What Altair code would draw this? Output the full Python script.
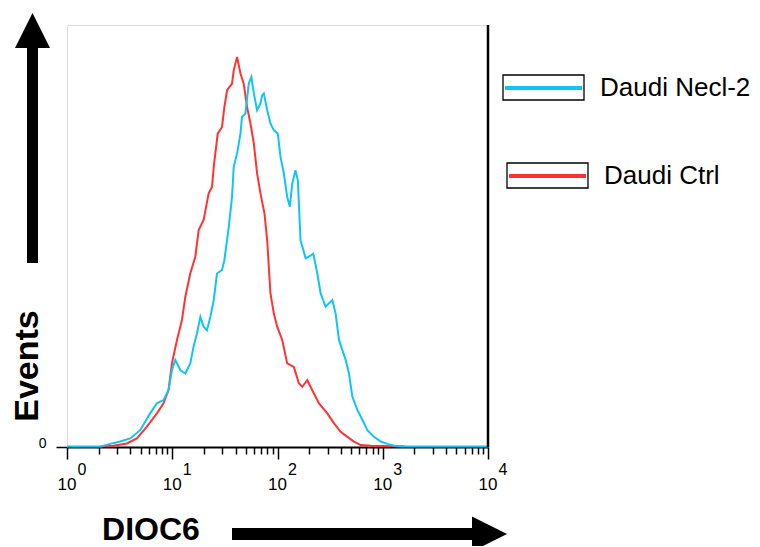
import altair as alt
import pandas as pd

# ---- data (x in decades of DIOC6 intensity, y in events) ----
blue_dec = [0.0, 0.314, 0.410, 0.505, 0.600, 0.695, 0.790, 0.854, 0.917, 0.965, 0.997,
            1.029, 1.076, 1.124, 1.171, 1.203, 1.235, 1.267, 1.298, 1.330, 1.362, 1.394,
            1.425, 1.473, 1.495, 1.537, 1.568, 1.584, 1.616, 1.648, 1.663, 1.695, 1.727,
            1.752, 1.775, 1.806, 1.838, 1.854, 1.870, 1.902, 1.933, 1.965, 2.003, 2.029,
            2.060, 2.092, 2.117, 2.140, 2.171, 2.193, 2.219, 2.267, 2.298, 2.340, 2.378,
            2.410, 2.457, 2.489, 2.521, 2.552, 2.584, 2.616, 2.648, 2.679, 2.711, 2.759,
            2.807, 2.854, 2.917, 2.981, 3.045, 3.108, 3.235, 4.0]
blue_cnt = [0.1, 0.1, 0.8, 1.4, 2.2, 4.3, 8.6, 11.2, 12.0, 14.6, 19.7,
            22.3, 19.7, 18.8, 21.4, 25.7, 29.1, 33.3, 30.8, 29.9, 33.3, 37.6,
            44.4, 45.3, 47.8, 56.3, 64.0, 71.7, 75.1, 80.2, 84.5, 85.3, 93.0,
            94.7, 90.5, 86.2, 87.9, 90.0, 90.5, 86.2, 82.8, 81.1, 80.2, 74.2,
            70.0, 64.0, 61.5, 67.4, 70.8, 68.3, 52.9, 48.3, 48.7, 49.5, 44.4,
            39.3, 35.9, 36.8, 37.6, 34.2, 27.4, 24.8, 22.3, 18.8, 12.9, 9.5,
            6.9, 4.3, 2.6, 1.4, 0.8, 0.3, 0.1, 0.1]

red_dec = [0.314, 0.441, 0.568, 0.664, 0.759, 0.854, 0.917, 0.965, 0.997, 1.045,
           1.092, 1.124, 1.171, 1.219, 1.251, 1.298, 1.346, 1.378, 1.394, 1.432,
           1.473, 1.495, 1.521, 1.568, 1.584, 1.616, 1.648, 1.679, 1.711, 1.743,
           1.775, 1.806, 1.838, 1.876, 1.902, 1.933, 1.965, 1.997, 2.045, 2.092,
           2.155, 2.203, 2.235, 2.283, 2.346, 2.393, 2.473, 2.536, 2.600, 2.664,
           2.727, 2.790, 2.886, 3.203]
red_cnt = [0.1, 0.3, 0.9, 2.2, 5.2, 8.6, 11.2, 14.6, 21.4, 27.4,
           32.5, 38.4, 44.4, 48.7, 55.5, 58.1, 64.9, 66.6, 71.7, 80.2,
           81.9, 87.0, 91.3, 93.0, 96.4, 99.8, 95.6, 93.0, 87.0, 82.8,
           77.7, 70.0, 64.9, 59.8, 52.9, 39.3, 34.2, 30.8, 27.4, 21.4,
           20.5, 16.3, 15.4, 17.1, 13.7, 11.2, 8.6, 6.1, 3.9, 2.6,
           1.4, 0.5, 0.3, 0.1]

series_names = ["Daudi Necl-2", "Daudi Ctrl"]
series_colors = ["#10c4f4", "#ff3333"]
decades = [0, 1, 2, 3, 4]
x_title = "DIOC6"
y_title = "Events"
y_tick_labels = [0]

FONT = "Liberation Sans"
W, H = 421, 422

blue_df = pd.DataFrame({"x": [10 ** d for d in blue_dec], "y": blue_cnt})
red_df = pd.DataFrame({"x": [10 ** d for d in red_dec], "y": red_cnt})

major = [10 ** d for d in decades]
tick_values = [k * 10 ** d for d in decades[:-1] for k in range(1, 10)] + [major[-1]]

xscale = alt.Scale(type="log", domain=[1, 10000], nice=False)
yscale = alt.Scale(domain=[0, 108], nice=False, zero=True)

xaxis = alt.Axis(
    values=tick_values, labels=False, title=None, grid=False,
    domainColor="black", domainWidth=2, tickColor="black", tickWidth=1.5,
    tickSize={"condition": {"test": "indexof([1,10,100,1000,10000], datum.value) >= 0", "value": 12}, "value": 7},
)
yaxis = alt.Axis(
    values=y_tick_labels, title=None, grid=False, domain=False,
    tickColor="black", tickWidth=1.5, tickSize=11,
    labelFont=FONT, labelFontSize=14, labelColor="black",
    labelBaseline="alphabetic", labelPadding=10,
)

red_line = alt.Chart(red_df).mark_line(color=series_colors[1], strokeWidth=2).encode(
    x=alt.X("x:Q", scale=xscale, axis=xaxis),
    y=alt.Y("y:Q", scale=yscale, axis=yaxis),
)
blue_line = alt.Chart(blue_df).mark_line(color=series_colors[0], strokeWidth=2).encode(
    x=alt.X("x:Q", scale=xscale),
    y=alt.Y("y:Q", scale=yscale),
)

# right frame edge (slightly heavier in the reference)
right_edge = alt.Chart(pd.DataFrame({"a": [0]})).mark_rule(color="black", strokeWidth=2.5).encode(
    x=alt.value(W), y=alt.value(0), y2=alt.value(H))

# tick labels 10^k
lab_df = pd.DataFrame({"x": major, "base": ["10"] * len(decades), "exp": [str(d) for d in decades]})
lab_base = alt.Chart(lab_df).mark_text(font=FONT, fontSize=17, color="black", align="center",
                                       baseline="middle", dx=0).encode(
    x=alt.X("x:Q", scale=xscale), y=alt.value(460), text="base:N")
lab_exp = alt.Chart(lab_df).mark_text(font=FONT, fontSize=16, color="black", align="center",
                                      baseline="middle", dx=15).encode(
    x=alt.X("x:Q", scale=xscale), y=alt.value(445), text="exp:N")

# axis titles
ttl_df = pd.DataFrame({"t": [x_title]})
x_ttl = alt.Chart(ttl_df).mark_text(font=FONT, fontSize=32, fontWeight="bold", color="black",
                                    align="center", baseline="alphabetic").encode(
    x=alt.value(84), y=alt.value(515), text="t:N")
yt_df = pd.DataFrame({"t": [y_title]})
y_ttl = alt.Chart(yt_df).mark_text(font=FONT, fontSize=34, fontWeight="bold", color="black",
                                   align="center", baseline="alphabetic", angle=270).encode(
    x=alt.value(-29), y=alt.value(341), text="t:N")

# arrows
one = pd.DataFrame({"a": [0]})
v_shaft = alt.Chart(one).mark_rule(color="black", strokeWidth=11).encode(
    x=alt.value(-34.5), y=alt.value(22), y2=alt.value(238))
v_head = alt.Chart(one).mark_point(shape="M0,-1L1,1L-1,1Z", filled=True, color="black",
                                   opacity=1, size=1225).encode(
    x=alt.value(-34.5), y=alt.value(5.5))
h_shaft = alt.Chart(one).mark_rule(color="black", strokeWidth=12).encode(
    x=alt.value(165), x2=alt.value(406), y=alt.value(509))
h_head = alt.Chart(one).mark_point(shape="M1,0L-1,-1L-1,1Z", filled=True, color="black",
                                   opacity=1, size=1225).encode(
    x=alt.value(422.5), y=alt.value(509))

# custom legend
def legend_item(name, color, bx, by):
    d = pd.DataFrame({"t": [name]})
    box = alt.Chart(d).mark_rect(fill="white", stroke="black", strokeWidth=1.3).encode(
        x=alt.value(bx), x2=alt.value(bx + 81), y=alt.value(by), y2=alt.value(by + 25))
    ln = alt.Chart(d).mark_rule(color=color, strokeWidth=4).encode(
        x=alt.value(bx + 2), x2=alt.value(bx + 79), y=alt.value(by + 13))
    tx = alt.Chart(d).mark_text(font=FONT, fontSize=26, color="black", align="left",
                                baseline="middle").encode(
        x=alt.value(bx + 97), y=alt.value(by + 13), text="t:N")
    return [box, ln, tx]

leg = legend_item(series_names[0], series_colors[0], 436, 50) + \
      legend_item(series_names[1], series_colors[1], 440, 138)

chart = alt.layer(
    red_line, blue_line, right_edge, lab_base, lab_exp, x_ttl, y_ttl,
    v_shaft, v_head, h_shaft, h_head, *leg
).properties(
    width=W, height=H,
    autosize=alt.AutoSizeParams(type="none"),
    padding={"left": 59, "top": 17, "right": 264, "bottom": 99},
).configure_view(stroke="black", strokeWidth=1).configure(background="white")

chart.save("out.html", embed_options={"renderer": "svg", "actions": False})
